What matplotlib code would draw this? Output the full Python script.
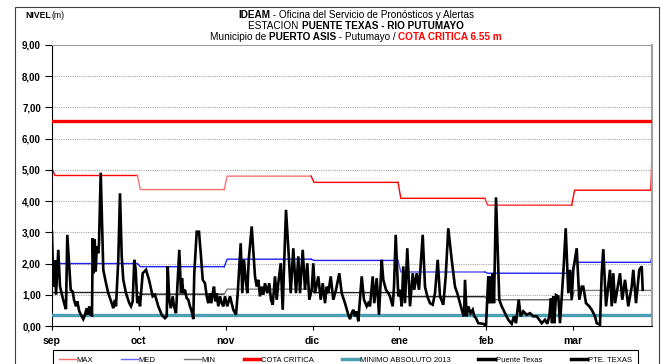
import matplotlib
matplotlib.use('agg')
import matplotlib.pyplot as plt
from matplotlib.lines import Line2D
from matplotlib.patches import Rectangle
import numpy as np

plt.rcParams['font.family'] = ['Liberation Sans', 'DejaVu Sans']

############ DATA ################################################################

meses = ['sep', 'oct', 'nov', 'dic', 'ene', 'feb', 'mar']

# monthly reference levels (m): value at start, one per month, value after last month
nivel_max = [4.82, 4.37, 4.80, 4.60, 4.09, 3.87, 4.35]
nivel_max_ini, nivel_max_fin = 5.05, 5.50
nivel_med = [2.00, 1.90, 2.14, 2.10, 1.73, 1.69, 2.04]
nivel_med_ini, nivel_med_fin = 2.22, 2.28
nivel_min = [1.10, 1.02, 1.18, 1.07, 0.94, 0.84, 1.14]
nivel_min_ini, nivel_min_fin = 1.10, 1.15

cota_critica = 6.55
minimo_abs_2013 = 0.35

# Puente Texas levels, days counted from the start of the axis
dias_sep = [0, 0.45, 1.05, 1.4, 2.2, 2.8, 3.75, 4.55, 4.9, 5.35,
            6.55, 7.25, 7.7, 8.4, 8.85, 9.55, 10.4, 10.95, 11.55, 12.15,
            12.5, 13.05, 13.55, 14.0, 14.25, 14.6, 14.95, 15.3, 15.65, 16.2,
            16.45, 17.05, 17.95, 18.9, 19.7, 20.9, 21.45, 22.05, 22.4, 23.2,
            23.8, 24.4, 24.95, 25.9, 27.05, 27.65, 28.25, 28.8, 29.3, 29.85]
nivel_sep = [3.0, 1.26, 2.1, 1.0, 2.44, 1.27, 0.9, 0.63, 0.54, 2.92,
             1.16, 1.1, 0.84, 0.63, 0.79, 0.47, 0.31, 0.22, 0.36, 0.57,
             0.36, 0.63, 0.36, 0.34, 2.81, 1.69, 2.77, 1.75, 2.55, 2.33,
             2.65, 4.91, 1.8, 1.37, 1.05, 0.73, 0.57, 0.84, 0.63, 2.12,
             4.25, 2.23, 1.48, 1.05, 0.73, 0.63, 0.79, 2.12, 1.8, 0.73]

dias_oct = [30.35, 30.8, 31.75, 32.9, 33.95, 35.25, 36.05, 37.2, 38.4, 39.55,
            40.15, 40.5, 41.05, 41.55, 42.25, 42.7, 43.4, 44.55, 45.15, 45.5,
            45.95, 46.55, 47.15, 47.7, 48.3, 48.9, 49.45, 49.8, 50.65, 51.45,
            52.15, 52.75, 53.55, 54.15, 54.7, 55.3, 55.75, 56.25, 56.7, 57.15,
            57.65, 58.2, 58.8, 59.4, 59.95, 60.55]
nivel_oct = [0.95, 0.63, 1.69, 1.8, 1.48, 0.95, 1.0, 0.63, 0.36, 0.25,
             0.31, 1.92, 0.84, 0.57, 0.95, 0.63, 0.41, 2.44, 1.05, 1.53,
             1.05, 1.16, 0.89, 0.84, 0.63, 0.47, 0.22, 1.69, 3.02, 3.02,
             2.23, 1.48, 1.37, 0.95, 0.73, 1.05, 0.73, 1.05, 1.26, 0.79,
             1.05, 0.63, 0.95, 0.73, 0.63, 0.95]

dias_nov = [61.35, 62.3, 63.45, 64.4, 65.0, 66.05, 66.6, 67.2, 67.8, 68.35,
            68.85, 69.9, 71.05, 71.65, 72.2, 72.8, 73.4, 73.95, 74.55, 75.35,
            76.05, 76.65, 77.25, 78.05, 78.65, 79.2, 80.05, 80.75, 81.3, 81.9,
            82.95, 83.55, 84.45, 85.4, 86.2, 86.8, 87.75, 88.55, 89.35, 90.05,
            90.9]
nivel_nov = [0.63, 0.95, 0.52, 0.36, 1.05, 2.65, 1.05, 2.12, 1.48, 1.05,
             2.12, 3.19, 1.59, 1.26, 1.48, 0.95, 1.26, 1.0, 1.37, 1.05,
             1.37, 0.84, 0.68, 1.59, 0.84, 1.37, 2.01, 0.52, 2.12, 3.72,
             2.12, 1.05, 2.49, 1.05, 2.23, 1.05, 2.44, 1.16, 2.01, 0.84,
             1.16]

dias_dic = [91.45, 92.05, 93.2, 94.05, 94.75, 95.55, 96.15, 96.7, 97.55, 98.45,
            99.4, 100.55, 101.4, 102.55, 103.7, 104.3, 104.9, 105.45, 106.05, 106.65,
            107.2, 108.4, 109.2, 110.15, 110.7, 111.3, 112.25, 112.8, 113.65, 114.45,
            115.4, 115.95, 116.9, 117.7, 118.3, 119.25, 119.7, 120.3, 121.2]
nivel_dic = [2.01, 1.05, 1.59, 0.84, 1.37, 0.73, 1.26, 1.05, 1.59, 0.84,
             1.16, 1.69, 1.05, 0.73, 0.36, 0.22, 0.41, 0.52, 0.31, 0.47,
             0.15, 1.59, 0.84, 0.63, 0.73, 0.63, 1.59, 0.73, 1.53, 0.36,
             2.12, 1.48, 1.16, 1.05, 0.95, 0.63, 1.26, 2.92, 0.95]

dias_ene = [121.8, 122.4, 122.95, 123.55, 124.35, 125.3, 126.25, 126.8, 127.65, 128.45,
            129.75, 130.55, 131.35, 132.3, 133.25, 134.05, 135.0, 135.8, 136.95, 137.8,
            138.7, 139.9, 141.05, 141.85, 142.8, 143.75, 144.2, 144.55, 145.15, 145.7,
            146.5, 147.25, 147.8, 148.4, 149.2, 150.95, 151.9]
nivel_ene = [1.16, 0.63, 1.91, 0.73, 2.49, 0.63, 1.69, 1.16, 1.69, 1.16,
             2.92, 1.26, 0.95, 0.73, 0.68, 1.05, 2.12, 0.95, 0.68, 1.59,
             3.13, 2.12, 1.26, 1.05, 0.73, 0.41, 0.31, 1.48, 0.31, 0.63,
             0.41, 0.52, 0.31, 0.25, 0.09, 0.07, 0.0]

dias_feb = [152.7, 153.05, 153.55, 153.9, 154.25, 154.7, 155.4, 156.55, 157.4, 158.55,
            159.7, 160.9, 161.7, 162.4, 163.35, 164.05, 164.95, 166.15, 167.3, 168.45,
            169.65, 171.4, 172.55, 173.35, 174.05, 174.65, 175.0, 175.45, 175.8, 176.4,
            177.2, 177.8, 178.4, 178.95, 179.8, 180.7, 181.3, 181.9]
nivel_feb = [1.59, 0.73, 1.59, 0.73, 1.69, 0.73, 4.12, 0.84, 0.63, 0.41,
             0.2, 0.07, 0.31, 0.09, 0.84, 0.31, 0.47, 0.36, 0.41, 0.31,
             0.31, 0.09, 0.2, 0.07, 0.31, 0.89, 0.09, 0.95, 0.09, 0.99,
             0.95, 0.09, 0.95, 1.69, 3.13, 1.05, 1.8, 0.84]

dias_mar = [182.45, 183.65, 184.55, 185.4, 185.95, 186.9, 188.05, 188.9, 190.05, 190.65,
            191.8, 192.4, 192.95, 193.9, 195.3, 195.9, 196.45, 197.05, 198.8, 199.6,
            200.55, 201.7, 202.9, 203.45, 204.4, 204.85, 205.55, 206.4, 206.75]
nivel_mar = [1.8, 2.49, 0.84, 1.26, 1.26, 0.73, 0.63, 0.52, 0.31, 0.09,
             0.04, 1.69, 2.46, 0.63, 1.8, 0.63, 1.69, 0.73, 1.69, 0.84,
             1.48, 0.63, 1.26, 1.8, 0.73, 1.16, 1.8, 1.91, 1.16]

###################################################################################

MES = 30.4      # axis spacing of one month (days)
X_FIN = 210.0   # right end of the axis (days)

dias = dias_sep + dias_oct + dias_nov + dias_dic + dias_ene + dias_feb + dias_mar
nivel = nivel_sep + nivel_oct + nivel_nov + nivel_dic + nivel_ene + nivel_feb + nivel_mar


def escalones(ini, vals, fin):
    # one flat piece per month, short ramps at the month changes
    segs = []
    x_prev, y_prev = 0.0, ini
    for i, v in enumerate(vals):
        a = i * MES + (1.0 if i == 0 else 0.5)
        b = (i + 1) * MES - 0.5 if i < len(vals) - 1 else X_FIN - 0.4
        segs.append(([x_prev, a, b], [y_prev, v, v]))
        x_prev, y_prev = b, v
    segs.append(([x_prev, X_FIN], [y_prev, fin]))
    return segs


fig = plt.figure(figsize=(6.63, 3.64), dpi=100)
W, H = 663., 364.
ax = fig.add_axes([52 / W, 1 - 326 / H, 600 / W, 281 / H])

# frame of the whole picture
fig.patches.append(Rectangle((15 / W, -0.05), 644 / W, 1 - 7 / H + 0.05,
                             transform=fig.transFigure, fill=False,
                             edgecolor='#404040', lw=0.8))

ax.set_xlim(0, X_FIN)
ax.set_ylim(0, 9)
for g in range(1, 9):
    ax.axhline(g, color='#A8A8A8', lw=0.8, ls=(0, (1, 1)), zorder=0)

col_max = ['#FF0000', '#FF7070', '#FF7070', '#FF0000', '#FF0000', '#FF3030', '#FF0000', '#FF0000']
col_med = ['#2020F0'] * 4 + ['#5050F5', '#2020F0', '#2020F0', '#2020F0']
col_min = ['#202020', '#202020', '#808080', '#202020', '#202020', '#606060', '#808080', '#808080']
for i, (xs, ys) in enumerate(escalones(nivel_max_ini, nivel_max, nivel_max_fin)):
    ax.plot(xs, ys, color=col_max[i], lw=1.0, zorder=2)
for i, (xs, ys) in enumerate(escalones(nivel_med_ini, nivel_med, nivel_med_fin)):
    ax.plot(xs, ys, color=col_med[i], lw=1.0, zorder=2)
for i, (xs, ys) in enumerate(escalones(nivel_min_ini, nivel_min, nivel_min_fin)):
    ax.plot(xs, ys, color=col_min[i], lw=1.0, zorder=2)

ax.axhline(cota_critica, color='#FF0000', lw=2.4, zorder=3)
ax.axhline(minimo_abs_2013, color='#4A9FB2', lw=2.4, zorder=3)
ax.plot(dias, nivel, color='black', lw=1.9, zorder=4, solid_joinstyle='miter')

# axes styling
ax.set_yticks(range(0, 10))
ax.set_yticklabels(['%d,00' % v for v in range(0, 10)], fontsize=7, fontweight='bold')
ax.set_xticks([i * MES for i in range(len(meses))])
ax.set_xticklabels(meses, fontsize=7.5, fontweight='bold')
ax.tick_params(axis='y', length=5, width=0.8, pad=3)
ax.tick_params(axis='x', length=3, width=0.8, pad=4)
ax.spines['left'].set_color('black')
ax.spines['bottom'].set_color('black')
ax.spines['top'].set_color('#A0A0A0')
ax.spines['right'].set_color('#A0A0A0')
ax.spines['right'].set_linewidth(1.5)

# titles with mixed styles
def rich_line(y, parts, size=7.2):
    rend = fig.canvas.get_renderer()
    items = []
    total = 0
    for s, w, c in parts:
        t = fig.text(0, y, s, fontsize=size, fontweight=w, color=c, va='center', ha='left')
        wd = t.get_window_extent(rend).width
        items.append((t, wd))
        total += wd
    x = 356 - total / 2
    for t, wd in items:
        t.set_x(x / W)
        x += wd

rich_line(1 - 15 / H, [('IDEAM', 'bold', 'black'),
                       (' - Oficina del Servicio de Pronósticos y Alertas', 'normal', 'black')])
rich_line(1 - 26 / H, [('ESTACION ', 'normal', 'black'),
                       ('PUENTE TEXAS - RIO PUTUMAYO', 'bold', 'black')])
rich_line(1 - 37 / H, [('Municipio de ', 'normal', 'black'),
                       ('PUERTO ASIS', 'bold', 'black'),
                       (' - Putumayo / ', 'normal', 'black'),
                       ('COTA CRITICA 6.55 m', 'bold', '#FF0000')])

fig.text(25 / W, 1 - 15 / H, 'NIVEL', fontsize=6.2, fontweight='bold', va='center')
fig.text(52 / W, 1 - 15 / H, '(m)', fontsize=6.2, va='center')

# legend
handles = [Line2D([], [], color='#FF6666', lw=1),
           Line2D([], [], color='#6666FF', lw=1),
           Line2D([], [], color='#707070', lw=1),
           Line2D([], [], color='#FF0000', lw=2.5),
           Line2D([], [], color='#4A9FB2', lw=2.5),
           Line2D([], [], color='black', lw=2.5),
           Line2D([], [], color='black', lw=2.5)]
labels = ['MAX', 'MED', 'MIN', 'COTA CRITICA', 'MINIMO ABSOLUTO 2013', 'Puente Texas', 'PTE. TEXAS']
leg = fig.legend(handles, labels, loc='upper left', ncol=7, mode='expand',
                 bbox_to_anchor=(49 / W, 1 - 347 / H, 593 / W, 0.001),
                 fontsize=5.5, handlelength=2.2, handletextpad=0.1,
                 borderpad=0.8, fancybox=False, framealpha=1, columnspacing=1.0)
leg.get_frame().set_edgecolor('black')
leg.get_frame().set_linewidth(0.8)

plt.savefig('out.png', dpi=100)
plt.close()
